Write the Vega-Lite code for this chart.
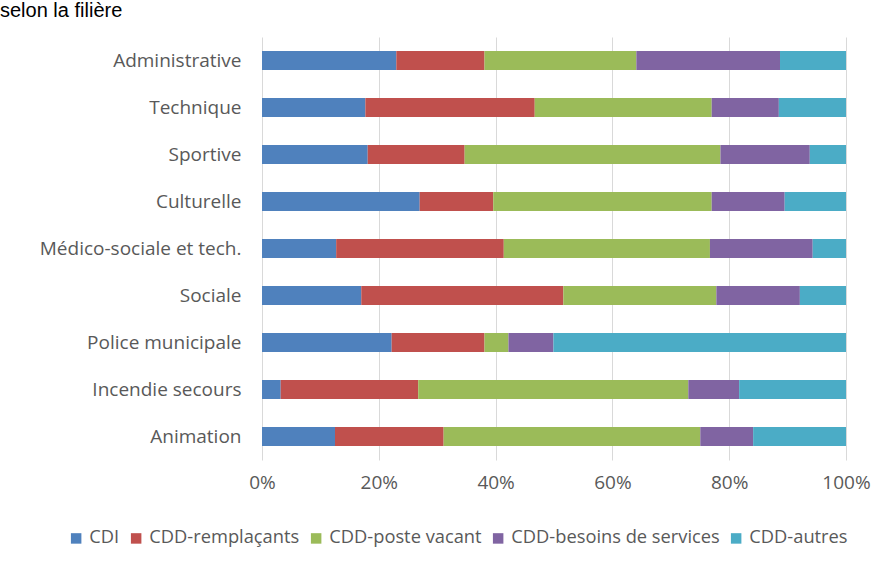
{
  "$schema": "https://vega.github.io/schema/vega-lite/v6.json",
  "autosize": {"type": "none"},
  "padding": {"left": 262, "top": 37, "right": 33, "bottom": 108},
  "width": 584,
  "height": 423,
  "background": "white",
  "title": {
    "text": "selon la filière",
    "anchor": "start",
    "frame": "group",
    "dx": -262,
    "offset": 16,
    "font": "Liberation Sans",
    "fontSize": 20,
    "fontWeight": "normal",
    "color": "#000000"
  },
  "data": {
    "values": [
      {"filiere": "Administrative", "type": "CDI", "ord": 1, "pct": 23.0},
      {"filiere": "Administrative", "type": "CDD-remplaçants", "ord": 2, "pct": 15.1},
      {"filiere": "Administrative", "type": "CDD-poste vacant", "ord": 3, "pct": 26.0},
      {"filiere": "Administrative", "type": "CDD-besoins de services", "ord": 4, "pct": 24.6},
      {"filiere": "Administrative", "type": "CDD-autres", "ord": 5, "pct": 11.3},
      {"filiere": "Technique", "type": "CDI", "ord": 1, "pct": 17.7},
      {"filiere": "Technique", "type": "CDD-remplaçants", "ord": 2, "pct": 29.0},
      {"filiere": "Technique", "type": "CDD-poste vacant", "ord": 3, "pct": 30.3},
      {"filiere": "Technique", "type": "CDD-besoins de services", "ord": 4, "pct": 11.5},
      {"filiere": "Technique", "type": "CDD-autres", "ord": 5, "pct": 11.5},
      {"filiere": "Sportive", "type": "CDI", "ord": 1, "pct": 18.1},
      {"filiere": "Sportive", "type": "CDD-remplaçants", "ord": 2, "pct": 16.6},
      {"filiere": "Sportive", "type": "CDD-poste vacant", "ord": 3, "pct": 43.8},
      {"filiere": "Sportive", "type": "CDD-besoins de services", "ord": 4, "pct": 15.3},
      {"filiere": "Sportive", "type": "CDD-autres", "ord": 5, "pct": 6.2},
      {"filiere": "Culturelle", "type": "CDI", "ord": 1, "pct": 27.0},
      {"filiere": "Culturelle", "type": "CDD-remplaçants", "ord": 2, "pct": 12.6},
      {"filiere": "Culturelle", "type": "CDD-poste vacant", "ord": 3, "pct": 37.4},
      {"filiere": "Culturelle", "type": "CDD-besoins de services", "ord": 4, "pct": 12.5},
      {"filiere": "Culturelle", "type": "CDD-autres", "ord": 5, "pct": 10.5},
      {"filiere": "Médico-sociale et tech.", "type": "CDI", "ord": 1, "pct": 12.7},
      {"filiere": "Médico-sociale et tech.", "type": "CDD-remplaçants", "ord": 2, "pct": 28.7},
      {"filiere": "Médico-sociale et tech.", "type": "CDD-poste vacant", "ord": 3, "pct": 35.3},
      {"filiere": "Médico-sociale et tech.", "type": "CDD-besoins de services", "ord": 4, "pct": 17.6},
      {"filiere": "Médico-sociale et tech.", "type": "CDD-autres", "ord": 5, "pct": 5.7},
      {"filiere": "Sociale", "type": "CDI", "ord": 1, "pct": 17.0},
      {"filiere": "Sociale", "type": "CDD-remplaçants", "ord": 2, "pct": 34.6},
      {"filiere": "Sociale", "type": "CDD-poste vacant", "ord": 3, "pct": 26.2},
      {"filiere": "Sociale", "type": "CDD-besoins de services", "ord": 4, "pct": 14.3},
      {"filiere": "Sociale", "type": "CDD-autres", "ord": 5, "pct": 7.9},
      {"filiere": "Police municipale", "type": "CDI", "ord": 1, "pct": 22.2},
      {"filiere": "Police municipale", "type": "CDD-remplaçants", "ord": 2, "pct": 15.9},
      {"filiere": "Police municipale", "type": "CDD-poste vacant", "ord": 3, "pct": 4.1},
      {"filiere": "Police municipale", "type": "CDD-besoins de services", "ord": 4, "pct": 7.7},
      {"filiere": "Police municipale", "type": "CDD-autres", "ord": 5, "pct": 50.1},
      {"filiere": "Incendie secours", "type": "CDI", "ord": 1, "pct": 3.2},
      {"filiere": "Incendie secours", "type": "CDD-remplaçants", "ord": 2, "pct": 23.55},
      {"filiere": "Incendie secours", "type": "CDD-poste vacant", "ord": 3, "pct": 46.25},
      {"filiere": "Incendie secours", "type": "CDD-besoins de services", "ord": 4, "pct": 8.7},
      {"filiere": "Incendie secours", "type": "CDD-autres", "ord": 5, "pct": 18.3},
      {"filiere": "Animation", "type": "CDI", "ord": 1, "pct": 12.5},
      {"filiere": "Animation", "type": "CDD-remplaçants", "ord": 2, "pct": 18.6},
      {"filiere": "Animation", "type": "CDD-poste vacant", "ord": 3, "pct": 43.95},
      {"filiere": "Animation", "type": "CDD-besoins de services", "ord": 4, "pct": 9.05},
      {"filiere": "Animation", "type": "CDD-autres", "ord": 5, "pct": 15.9}
    ]
  },
  "mark": {"type": "bar"},
  "encoding": {
    "y": {
      "field": "filiere",
      "type": "nominal",
      "sort": null,
      "scale": {"paddingInner": 0.596, "paddingOuter": 0.298},
      "axis": {
        "title": null,
        "domain": false,
        "ticks": false,
        "grid": false,
        "labelPadding": 21,
        "labelFont": "Open Sans",
        "labelFontSize": 19,
        "labelColor": "#595959",
        "labelLimit": 300
      }
    },
    "x": {
      "field": "pct",
      "type": "quantitative",
      "stack": "normalize",
      "scale": {"domain": [0, 1], "nice": false},
      "axis": {
        "title": null,
        "format": ".0%",
        "values": [0, 0.2, 0.4, 0.6, 0.8, 1],
        "domain": false,
        "ticks": false,
        "grid": true,
        "gridColor": "#d9d9d9",
        "gridWidth": 1,
        "labelPadding": 13,
        "labelFont": "Open Sans",
        "labelFontSize": 19,
        "labelColor": "#595959",
        "labelFlush": false
      }
    },
    "color": {
      "field": "type",
      "type": "nominal",
      "scale": {
        "domain": ["CDI", "CDD-remplaçants", "CDD-poste vacant", "CDD-besoins de services", "CDD-autres"],
        "range": ["#4f81bd", "#c0504d", "#9bbb59", "#8064a2", "#4bacc6"]
      },
      "legend": {
        "title": null,
        "orient": "none",
        "direction": "horizontal",
        "legendX": -195,
        "legendY": 492,
        "symbolType": "square",
        "symbolSize": 110,
        "symbolStrokeWidth": 0,
        "labelFont": "Open Sans",
        "labelFontSize": 18.3,
        "labelColor": "#595959",
        "labelOffset": 4,
        "columnPadding": 7,
        "labelLimit": 400
      }
    },
    "order": {"field": "ord", "type": "quantitative"}
  },
  "config": {
    "view": {"stroke": null}
  }
}
